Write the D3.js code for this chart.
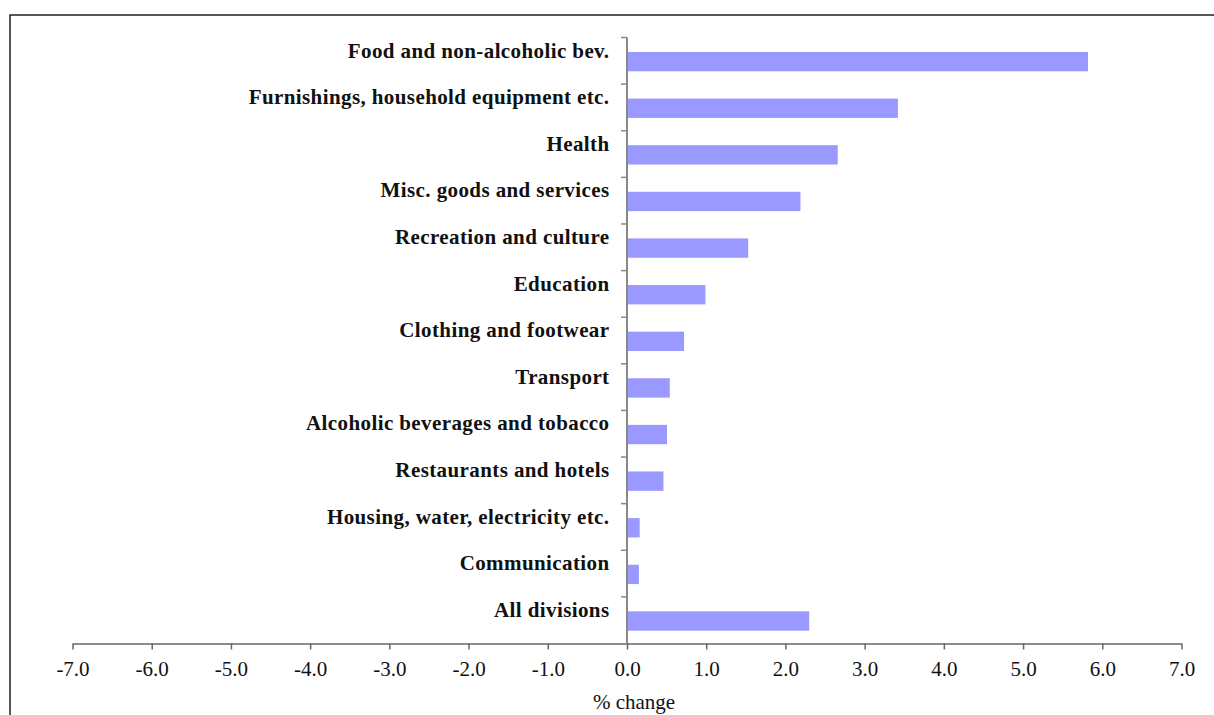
<!DOCTYPE html>
<html>
<head>
<meta charset="utf-8">
<script src="https://cdn.jsdelivr.net/npm/d3@7"></script>
<style>
  html, body { margin: 0; padding: 0; background: #fff; overflow: hidden; }
</style>
</head>
<body>
<svg id="chart" width="1214" height="715"></svg>
<script>
// categories, top to bottom
var categories = [
  "Food and non-alcoholic bev.",
  "Furnishings, household equipment etc.",
  "Health",
  "Misc. goods and services",
  "Recreation and culture",
  "Education",
  "Clothing and footwear",
  "Transport",
  "Alcoholic beverages and tobacco",
  "Restaurants and hotels",
  "Housing, water, electricity etc.",
  "Communication",
  "All divisions"
];
// % change
var values = [5.82, 3.42, 2.66, 2.19, 1.53, 0.99, 0.72, 0.54, 0.505, 0.46, 0.16, 0.15, 2.30];
var xTicks = [-7, -6, -5, -4, -3, -2, -1, 0, 1, 2, 3, 4, 5, 6, 7];

var data = categories.map((c, i) => ({ name: c, value: values[i] }));

var svg = d3.select("#chart");
var serif = "'Liberation Serif', 'Times New Roman', serif";

// outer frame
svg.append("rect")
  .attr("x", 10).attr("y", 15)
  .attr("width", 1230).attr("height", 730)
  .attr("fill", "none")
  .attr("stroke", "#222")
  .attr("stroke-width", 1.5);

var x = d3.scaleLinear().domain([-7, 7]).range([72.5, 1181.5]);
var y = d3.scaleBand().domain(categories).range([37.5, 643.5]).padding(0);

// bars
svg.selectAll("rect.bar")
  .data(data)
  .enter()
  .append("rect")
  .attr("class", "bar")
  .attr("x", d => x(Math.min(0, d.value)))
  .attr("y", d => y(d.name) + y.bandwidth() * 0.31)
  .attr("width", d => Math.abs(x(d.value) - x(0)))
  .attr("height", y.bandwidth() * 0.415)
  .attr("fill", "#9999ff");

// x axis (plain hyphen for minus, like the original)
var xAxis = svg.append("g")
  .attr("transform", "translate(0,643.5)")
  .call(d3.axisBottom(x).tickValues(xTicks).tickSize(6).tickSizeOuter(0)
    .tickFormat(d => d.toFixed(1)));
xAxis.select(".domain").attr("stroke", "#666").attr("stroke-width", 1.5);
xAxis.selectAll(".tick line").attr("stroke", "#666").attr("stroke-width", 1.5);
xAxis.selectAll(".tick text")
  .attr("y", 32).attr("dy", 0)
  .attr("fill", "#111")
  .style("font-family", serif)
  .style("font-size", "21px");

// y axis line with ticks at band edges
var yg = svg.append("g").attr("transform", "translate(" + x(0) + ",0)");
yg.append("line")
  .attr("x1", 0).attr("x2", 0)
  .attr("y1", y.range()[0]).attr("y2", y.range()[1])
  .attr("stroke", "#888").attr("stroke-width", 2);
yg.selectAll("line.tk")
  .data(categories)
  .enter()
  .append("line")
  .attr("class", "tk")
  .attr("x1", -6).attr("x2", 0)
  .attr("y1", d => y(d)).attr("y2", d => y(d))
  .attr("stroke", "#888").attr("stroke-width", 1.5);

// category labels
svg.selectAll("text.cat")
  .data(data)
  .enter()
  .append("text")
  .attr("class", "cat")
  .attr("x", 609.5)
  .attr("y", d => y(d.name) + 20)
  .attr("text-anchor", "end")
  .attr("fill", "#111")
  .style("font-family", serif)
  .style("font-weight", "bold")
  .style("font-size", "21px")
  .style("letter-spacing", "0.4px")
  .text(d => d.name);

// axis title
svg.append("text")
  .attr("x", 634)
  .attr("y", 709)
  .attr("text-anchor", "middle")
  .attr("fill", "#111")
  .style("font-family", serif)
  .style("font-size", "21px")
  .text("% change");
</script>
</body>
</html>
